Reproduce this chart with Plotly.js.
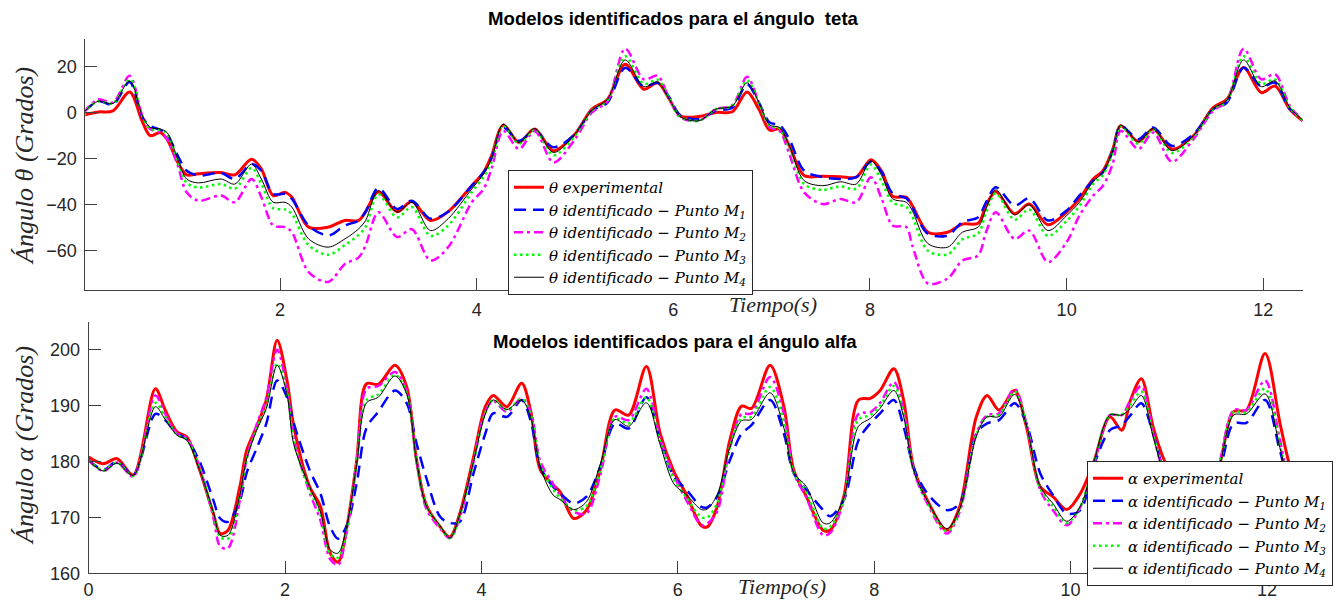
<!DOCTYPE html>
<html>
<head>
<meta charset="utf-8">
<script src="https://cdn.plot.ly/plotly-3.0.1.min.js"></script>
<style>html,body{margin:0;padding:0;background:#fff;}#chart{width:1343px;height:601px;}</style>
</head>
<body>
<div id="chart"></div>
<script>
// ---- top plot: theta ----
const timeTheta = [0, 0.15, 0.3, 0.47, 0.6, 0.68, 0.78, 0.85, 0.96, 1.05,
 1.17, 1.4, 1.54, 1.71, 1.81, 1.93, 2.05, 2.12, 2.29, 2.49,
 2.66, 2.8, 2.87, 3.0, 3.19, 3.34, 3.53, 3.71, 3.95, 4.07,
 4.15, 4.27, 4.43, 4.59, 4.78, 5.0, 5.17, 5.33, 5.51, 5.7,
 5.84, 5.96, 6.07, 6.26, 6.43, 6.6, 6.75, 6.87, 6.98, 7.08,
 7.18, 7.33, 7.52, 7.7, 7.86, 8.01, 8.12, 8.23, 8.37, 8.43,
 8.59, 8.79, 8.94, 9.1, 9.18, 9.28, 9.47, 9.62, 9.81, 10.0,
 10.13, 10.27, 10.37, 10.47, 10.55, 10.73, 10.88, 11.07, 11.29, 11.49,
 11.63, 11.8, 11.98, 12.12, 12.27, 12.4];
const thetaExp = [-1.1, 0.3, 0.8, 9, -4, -10, -8.6, -11.5, -21.6, -27,
 -26.5, -26, -27, -20.2, -24.5, -36, -34.6, -36.7, -49.7, -49.7,
 -46.8, -46.8, -43, -34.3, -43, -38.6, -46.8, -43, -31.7, -25.9,
 -18.7, -5.4, -12.9, -7.1, -16.5, -9.3, 1.5, 5.8, 21, 10.2,
 13, 5.8, -1.4, -1.7, 0.1, 0.4, 9, 1.5, -7.6, -7.1,
 -14.4, -27.3, -27.6, -27.8, -28, -20.4, -25.5, -36.3, -36.7, -40.3,
 -51.9, -51.9, -48.4, -48, -40.3, -34.3, -43.9, -39.7, -48.7, -43.2,
 -37.4, -28.8, -25.2, -15.8, -5.7, -12.6, -7.1, -15.8, -10, 2.2,
 5.8, 19.6, 8.7, 11.6, 1.5, -3.5];
const thetaM1 = [0, 5, 3.5, 13.3, -2, -5.7, -7.4, -9.3, -18.7, -25.2,
 -27.3, -26.2, -28.8, -22.3, -25.2, -35.3, -35.3, -37.4, -49, -53.3,
 -49, -46.8, -43, -32.7, -41.8, -38.2, -46, -43, -31.7, -25.9,
 -19.8, -6.4, -12.2, -7.9, -15, -9.3, 0.8, 4.4, 19.5, 11.3,
 13, 6.6, -1.1, -2.8, 0.8, 2.2, 12.3, 4.4, -4.3, -5.4,
 -11.5, -25.2, -28, -28.8, -28, -21.3, -25.9, -35, -37.2, -41,
 -52.6, -53.3, -47.5, -45.4, -38.9, -32.4, -40.3, -37.2, -46.8, -42.5,
 -36, -29.5, -25.9, -16.5, -5.7, -11.5, -6.4, -14.4, -9.3, 1.5,
 4.4, 19.5, 11.3, 13, 1.5, -2];
const thetaM2 = [0, 5.8, 4.4, 16, -1.4, -7.1, -8.6, -11.5, -23, -34.6,
 -38.2, -36, -38.9, -28.8, -36.7, -49, -49.7, -51.9, -69.2, -73.5,
 -65.7, -62.8, -57.6, -43.2, -54, -50.6, -64.2, -58.4, -38.9, -33.1,
 -24.5, -7.9, -15.8, -7.9, -21.6, -11.5, 0, 5, 27.8, 14.5,
 16, 5.8, -2, -3.5, 1.5, 3.2, 15.6, 4.4, -6.4, -7.9,
 -18, -34.6, -39.7, -37.5, -38.9, -28, -37.5, -49, -49.7, -57.6,
 -74.2, -72, -64.2, -62, -51.9, -43.2, -54.8, -51.2, -64.9, -56.2,
 -44.7, -36, -31.7, -22, -7.9, -15.8, -8.6, -21.3, -11.5, 0.8,
 5, 27.8, 14.5, 16.7, 2.9, -3.5];
const thetaM3 = [0, 5, 4, 14.5, -1.5, -7, -7.5, -9, -21, -30.5,
 -32.5, -31, -33, -24, -31, -41.5, -42, -44, -57.5, -61.7,
 -57.5, -53, -49.5, -35.5, -45.5, -41, -53.5, -49, -34.5, -28,
 -21.5, -5.5, -13.5, -7.3, -18.5, -10, 0.8, 5.5, 24.5, 12.5,
 14.3, 6, -1.8, -3.5, 1.5, 3, 14, 4.4, -5.8, -6.8,
 -15.5, -31, -33.5, -32, -33, -22.5, -30, -39, -41, -45,
 -60, -61.5, -55, -52.5, -43.5, -35, -46.5, -42, -53.5, -47,
 -40.5, -31, -27, -17, -5.8, -13.5, -7.2, -17.5, -10.5, 1.5,
 5.2, 24.5, 12.5, 14.5, 2.3, -3.3];
const thetaM4 = [0, 5, 4, 13.8, -1.4, -6.4, -7.1, -8.6, -20.2, -28.8,
 -30.5, -28.8, -31, -22.3, -28.8, -38.9, -38.9, -41, -54.8, -58.4,
 -54.8, -50.4, -46.8, -33.8, -43.2, -38.9, -51.2, -46, -33.1, -26.6,
 -20.2, -5, -12.9, -6.9, -17.3, -9.3, 1, 5.8, 22.9, 11.3,
 13.3, 5.8, -1.7, -3.5, 1.5, 2.9, 13, 4.4, -5.4, -6.4,
 -14.4, -29.5, -31.7, -30, -31, -20.9, -27.4, -37.4, -38.9, -42.5,
 -56.9, -58.4, -51.9, -49.7, -41.8, -33.5, -44.4, -40, -51.2, -44.7,
 -38.9, -29.9, -25.9, -16.5, -5.4, -12.6, -6.9, -16.5, -10, 1.8,
 5.4, 22.9, 11.3, 13.8, 2.2, -3.1];

// ---- bottom plot: alpha ----
const timeAlpha = [0, 0.15, 0.29, 0.455, 0.68, 0.78, 0.9, 1.0, 1.13, 1.27,
 1.34, 1.42, 1.54, 1.61, 1.71, 1.81, 1.92, 2.02, 2.09, 2.25,
 2.36, 2.46, 2.54, 2.63, 2.73, 2.83, 2.95, 3.12, 3.24, 3.34,
 3.44, 3.58, 3.68, 3.78, 3.92, 4.04, 4.12, 4.26, 4.41, 4.5,
 4.6, 4.73, 4.8, 4.94, 5.07, 5.21, 5.36, 5.5, 5.68, 5.82,
 5.96, 6.09, 6.24, 6.3, 6.4, 6.53, 6.65, 6.75, 6.94, 7.08,
 7.18, 7.31, 7.48, 7.55, 7.69, 7.84, 7.96, 8.06, 8.2, 8.3,
 8.4, 8.54, 8.74, 8.87, 9.04, 9.15, 9.27, 9.43, 9.55, 9.69,
 9.82, 9.96, 10.1, 10.23, 10.4, 10.52, 10.61, 10.72, 10.84, 10.94,
 11.1, 11.25, 11.4, 11.52, 11.66, 11.79, 11.98, 12.13, 12.22, 12.35];
const alphaExp = [180.8, 179.6, 180.5, 177.6, 193, 189.2, 185.3, 184.4, 178.5, 170.7,
 167.1, 167.7, 175.5, 182, 186.2, 191, 201.7, 194.5, 186.2, 175.5,
 172, 163.6, 162, 168.3, 180.2, 193.9, 193.8, 197.2, 193.3, 180.2,
 172.2, 168.3, 166.5, 170.7, 180.8, 189.8, 191.8, 189.8, 194, 189.2,
 178.5, 175.8, 174.6, 169.8, 171.3, 178.5, 189.2, 188.3, 197, 185,
 178.2, 174, 168.5, 168.3, 171.9, 183.8, 189.9, 189.5, 197.2, 189.8,
 178.5, 173.7, 167.7, 167.7, 173.7, 191, 191.3, 192.7, 196.6, 190.9,
 179, 173.1, 167.7, 171.9, 188, 191.8, 189.2, 192.7, 186.2, 175.5,
 173.7, 171.4, 174.3, 179.6, 188, 185.6, 191, 194.8, 186.2, 180.8,
 175, 170.5, 174, 179.6, 188.9, 189.2, 199.3, 187, 180, 173];
const alphaM1 = [180.3, 178.5, 180, 177.6, 188.5, 187.4, 185, 184, 180, 173.1,
 169.8, 169.2, 173, 178, 182.3, 186.8, 194.5, 191.5, 186.8, 178.5,
 174.3, 168.3, 166.2, 168.6, 176.1, 186, 188.9, 192.7, 190.4, 183.2,
 177, 170.1, 169, 169.2, 177.9, 185, 188.6, 188, 191, 187.4,
 179, 175.5, 174.3, 172.5, 173.7, 179, 186.8, 185.9, 191.5, 183.8,
 177.3, 174.9, 171.9, 171.8, 173.7, 180.2, 185, 186.5, 191, 185,
 177.9, 174.9, 171.3, 170.2, 173.1, 183.8, 186.8, 188.6, 191, 186.2,
 179, 174.3, 171.3, 172.5, 185, 186.8, 187.4, 190.4, 186.8, 177.9,
 174, 170.7, 171.3, 179, 185.6, 186.5, 188.3, 190.4, 185, 179,
 174, 171.5, 174, 178.5, 186.8, 186.9, 191, 182, 177, 175];
const alphaM2 = [180.2, 178.3, 179.8, 177.3, 191.8, 188.5, 185, 184.2, 179, 170,
 164.8, 164.5, 173, 180.5, 186.5, 191.5, 200, 193, 184, 174.5,
 169.5, 162.5, 161.5, 167.5, 180, 193, 193.5, 196, 192.5, 180,
 171.5, 168, 166.3, 170, 180, 189, 190.8, 188.9, 191.3, 189,
 180, 176, 174, 171, 170.7, 177.5, 188, 187.4, 193, 184,
 177.5, 173, 168.6, 168.9, 171, 182.5, 188.5, 188.6, 195.1, 188.5,
 178, 173.5, 166.8, 167.2, 173, 188.5, 188.8, 190.5, 194.2, 189,
 178.5, 172.5, 167.1, 171, 185, 188.3, 188.6, 193, 186.8, 174.9,
 171.3, 168.6, 171.9, 179, 188.3, 188.3, 191, 193.5, 185, 178.5,
 172.5, 168, 172, 180, 189.2, 189.2, 194.5, 184, 177, 173.5];
const alphaM3 = [180.2, 178.4, 179.8, 177.4, 190.5, 188, 184.8, 183.9, 178.7, 170.7,
 166.5, 166.2, 173.8, 180.5, 185.8, 190, 197.5, 192.5, 183.5, 175,
 170.5, 163.5, 162.8, 168, 179.8, 191, 192, 195.5, 192.2, 180,
 172, 168.3, 166.3, 170.3, 180, 188.7, 191, 189.2, 191.2, 188.5,
 179.5, 175, 173.5, 171.3, 172, 178.5, 187.7, 186.8, 191.5, 183.5,
 176.8, 173.5, 170, 170, 172.5, 182.5, 187.8, 188, 193.3, 187,
 178, 174.5, 168, 168.3, 173.3, 187.5, 188.3, 190, 193.5, 188.5,
 178.5, 172.8, 167.5, 171.3, 184.8, 188, 188.3, 192.5, 186.6, 175.2,
 172, 169, 172, 179.3, 188.3, 188.3, 190.2, 192.5, 184.8, 178.5,
 173, 168.8, 172.5, 179.5, 188.8, 188.8, 193, 183, 177, 174];
const alphaM4 = [180.2, 178.3, 179.7, 177.5, 189.8, 187.5, 184.7, 183.8, 178.5, 171,
 166.8, 166.8, 174, 180.5, 185.5, 189.5, 197.2, 192, 183, 175.5,
 171, 164.2, 163.6, 168.5, 179.5, 190.5, 191.5, 195.3, 192, 180,
 172, 168.5, 166.3, 170.5, 180, 188.5, 191, 189.3, 191, 188,
 179, 174, 173.2, 171.4, 172.8, 179.5, 187.5, 186.3, 190.5, 183,
 176, 174, 171.4, 171.5, 174, 182.5, 187.3, 187.5, 192.3, 186,
 178, 175.5, 169, 169, 173.5, 186.3, 187.7, 189.5, 192.7, 188,
 178.5, 173, 168, 171.5, 184.5, 188, 188, 192, 186.5, 175.5,
 172.5, 169.3, 172, 179.5, 188.3, 188.3, 189.5, 191.8, 184.5, 178.5,
 173.5, 169.5, 173, 179.5, 188.3, 188.5, 192.1, 182.5, 177, 174.5];

const thetaTicks = [-60, -40, -20, 0, 20];
const alphaTicks = [160, 170, 180, 190, 200];
const timeTicksTop = [2, 4, 6, 8, 10, 12];
const timeTicksBottom = [0, 2, 4, 6, 8, 10, 12];

const seriesNames = ['experimental', 'identificado \u2212 Punto M<sub>1</sub>', 'identificado \u2212 Punto M<sub>2</sub>',
  'identificado \u2212 Punto M<sub>3</sub>', 'identificado \u2212 Punto M<sub>4</sub>'];
const styles = [
  {color: '#ff0000', width: 3, dash: 'solid'},
  {color: '#0000ff', width: 2.5, dash: '12px,7px'},
  {color: '#ff00ff', width: 2.5, dash: '9px,4px,3px,4px'},
  {color: '#00ff00', width: 2.5, dash: '2.5px,3.5px'},
  {color: '#000000', width: 1, dash: 'solid'}
];

const W = 1343, H = 601;
const traces = [];
const thetaSeries = [thetaExp, thetaM1, thetaM2, thetaM3, thetaM4];
const alphaSeries = [alphaExp, alphaM1, alphaM2, alphaM3, alphaM4];
thetaSeries.forEach((ys, i) => traces.push({
  x: timeTheta, y: ys, xaxis: 'x', yaxis: 'y', type: 'scatter', mode: 'lines',
  name: '\u03b8 ' + seriesNames[i], legend: 'legend',
  line: Object.assign({shape: 'spline', smoothing: 0.9}, styles[i])
}));
alphaSeries.forEach((ys, i) => traces.push({
  x: timeAlpha, y: ys, xaxis: 'x2', yaxis: 'y2', type: 'scatter', mode: 'lines',
  name: '\u03b1 ' + seriesNames[i], legend: 'legend2',
  line: Object.assign({shape: 'spline', smoothing: 0.9}, styles[i])
}));

const axisFont = {family: 'Liberation Sans, Arial, sans-serif', size: 18, color: '#262626'};
function xAx(domain, range, ticks, anchor, standoff) {
  return {domain: domain, range: range, anchor: anchor, tickmode: 'array', tickvals: ticks,
    ticks: 'inside', ticklen: 12, tickcolor: '#404040', tickwidth: 1,
    showline: true, linecolor: '#404040', linewidth: 1, mirror: false,
    showgrid: false, zeroline: false, tickfont: axisFont, ticklabelstandoff: standoff, automargin: false};
}
function yAx(domain, range, ticks, anchor) {
  return {domain: domain, range: range, anchor: anchor, tickmode: 'array', tickvals: ticks,
    ticks: 'inside', ticklen: 12, tickcolor: '#404040', tickwidth: 1,
    showline: true, linecolor: '#404040', linewidth: 1, mirror: false,
    showgrid: false, zeroline: false, tickfont: axisFont, ticklabelstandoff: 4, automargin: false};
}
const legendFont = {family: 'DejaVu Serif, serif', size: 15, style: 'italic', color: '#000'};
const serifIt = (size) => ({family: 'Liberation Serif, Times New Roman, serif', size: size, style: 'italic', color: '#262626'});
const titleFont = {family: 'Liberation Sans, Arial, sans-serif', size: 18.6, color: '#000'};

const layout = {
  width: W, height: H,
  margin: {l: 0, r: 0, t: 0, b: 0},
  paper_bgcolor: '#ffffff', plot_bgcolor: '#ffffff',
  showlegend: true,
  title: {text: '<b>Modelos identificados para el \u00e1ngulo\u00a0 teta</b>', font: titleFont,
    x: 673 / W, xanchor: 'center', y: 1 - 18 / H, yanchor: 'middle'},
  xaxis: xAx([85.4 / W, 1302.6 / W], [0.02, 12.4], timeTicksTop, 'y', 3),
  yaxis: yAx([(H - 290) / H, (H - 39) / H], [-77, 32], thetaTicks, 'x'),
  xaxis2: xAx([88.6 / W, 1301.4 / W], [0, 12.35], timeTicksBottom, 'y2', 0),
  yaxis2: yAx([(H - 573.3) / H, (H - 321.7) / H], [160, 205], alphaTicks, 'x2'),
  legend: {x: 508 / W, y: 1 - 170 / H, xanchor: 'left', yanchor: 'top', bgcolor: '#ffffff',
    bordercolor: '#262626', borderwidth: 1, font: legendFont, tracegroupgap: 0},
  legend2: {x: 1087 / W, y: 1 - 461 / H, xanchor: 'left', yanchor: 'top', bgcolor: '#ffffff',
    bordercolor: '#262626', borderwidth: 1, font: legendFont, tracegroupgap: 0},
  annotations: [
    {text: '<b>Modelos identificados para el \u00e1ngulo alfa</b>', xref: 'paper', yref: 'paper',
      x: 675 / W, y: 1 - 341 / H, xanchor: 'center', yanchor: 'middle', showarrow: false, font: titleFont},
    {text: '\u00c1ngulo \u03b8 (Grados)', xref: 'paper', yref: 'paper', x: 24 / W, y: 1 - 166 / H,
      xanchor: 'center', yanchor: 'middle', textangle: -90, showarrow: false, font: serifIt(26)},
    {text: '\u00c1ngulo \u03b1 (Grados)', xref: 'paper', yref: 'paper', x: 24 / W, y: 1 - 446 / H,
      xanchor: 'center', yanchor: 'middle', textangle: -90, showarrow: false, font: serifIt(26)},
    {text: 'Tiempo(s)', xref: 'paper', yref: 'paper', x: 773 / W, y: 1 - 304 / H,
      xanchor: 'center', yanchor: 'middle', showarrow: false, font: serifIt(22)},
    {text: 'Tiempo(s)', xref: 'paper', yref: 'paper', x: 782 / W, y: 1 - 586 / H,
      xanchor: 'center', yanchor: 'middle', showarrow: false, font: serifIt(22)}
  ]
};

Plotly.newPlot('chart', traces, layout, {staticPlot: true, displayModeBar: false});
</script>
</body>
</html>
